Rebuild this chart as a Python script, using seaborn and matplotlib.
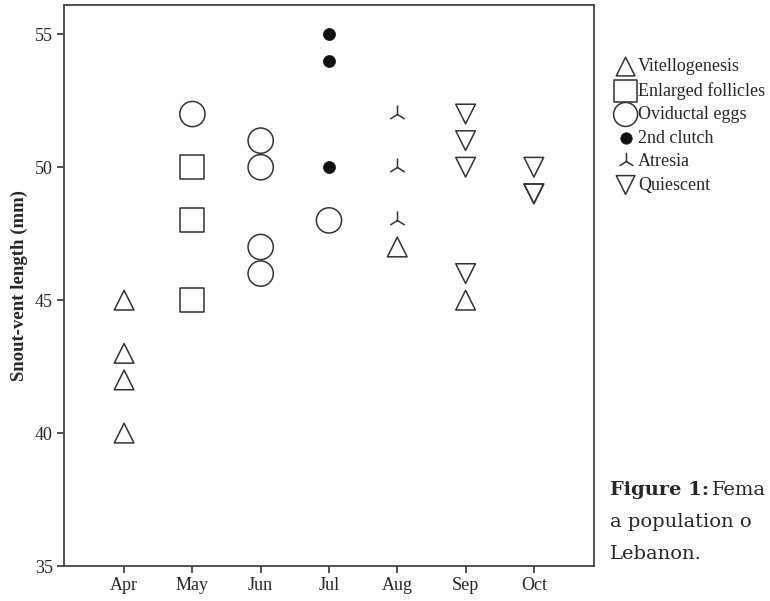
import matplotlib
matplotlib.use("Agg")
import matplotlib.pyplot as plt
import seaborn as sns
import pandas as pd

months = ["Apr", "May", "Jun", "Jul", "Aug", "Sep", "Oct"]
stages = ["Vitellogenesis", "Enlarged follicles", "Oviductal eggs",
          "2nd clutch", "Atresia", "Quiescent"]

# (month, snout-vent length) per reproductive stage
vitello_month = ["Apr", "Apr", "Apr", "Apr", "Aug", "Sep"]
vitello_svl = [45, 43, 42, 40, 47, 45]
enlarged_month = ["May", "May", "May"]
enlarged_svl = [50, 48, 45]
oviduct_month = ["May", "Jun", "Jun", "Jun", "Jun", "Jul"]
oviduct_svl = [52, 51, 50, 47, 46, 48]
clutch2_month = ["Jul", "Jul", "Jul"]
clutch2_svl = [55, 54, 50]
atresia_month = ["Aug", "Aug", "Aug"]
atresia_svl = [52, 50, 48]
quiesc_month = ["Sep", "Sep", "Sep", "Sep", "Oct", "Oct", "Oct"]
quiesc_svl = [52, 51, 50, 46, 50, 49, 49]

df = pd.concat([
    pd.DataFrame({"month": vitello_month, "svl": vitello_svl, "stage": stages[0]}),
    pd.DataFrame({"month": enlarged_month, "svl": enlarged_svl, "stage": stages[1]}),
    pd.DataFrame({"month": oviduct_month, "svl": oviduct_svl, "stage": stages[2]}),
    pd.DataFrame({"month": clutch2_month, "svl": clutch2_svl, "stage": stages[3]}),
    pd.DataFrame({"month": atresia_month, "svl": atresia_svl, "stage": stages[4]}),
    pd.DataFrame({"month": quiesc_month, "svl": quiesc_svl, "stage": stages[5]}),
], ignore_index=True)
df["x"] = df["month"].map({m: i for i, m in enumerate(months)})

sns.set_style("ticks")
plt.rcParams["font.family"] = ["Liberation Serif", "DejaVu Serif"]

edge = "#333333"
styles = {
    "Vitellogenesis": dict(marker="^", s=200, facecolor="none", edgecolor=edge, linewidth=1.1),
    "Enlarged follicles": dict(marker="s", s=300, facecolor="none", edgecolor=edge, linewidth=1.1),
    "Oviductal eggs": dict(marker="o", s=330, facecolor="none", edgecolor=edge, linewidth=1.1),
    "2nd clutch": dict(marker="o", s=75, color="#111111", edgecolor="#111111", linewidth=0.5),
    "Atresia": dict(marker="2", s=170, color=edge, linewidth=1.1),
    "Quiescent": dict(marker="v", s=200, facecolor="none", edgecolor=edge, linewidth=1.1),
}

fig = plt.figure(figsize=(7.7, 6.01), dpi=100)
ax = fig.add_axes([0.0831, 0.0582, 0.6883, 0.9334])

for st in stages:
    sub = df[df["stage"] == st]
    sns.scatterplot(data=sub, x="x", y="svl", ax=ax, label=st, **styles[st])

ax.set_xlim(-0.88, 6.88)
ax.set_ylim(35, 56.1)
ax.set_xticks(range(len(months)))
ax.set_xticklabels(months)
ax.set_yticks([35, 40, 45, 50, 55])
ax.set_xlabel("")
ax.set_ylabel("Snout-vent length (mm)", fontsize=13.5, fontweight="bold")
ax.yaxis.set_label_coords(-0.067, 0.5)
ax.tick_params(axis="both", labelsize=13, length=5, width=1.2, color=edge, pad=3)
for sp in ax.spines.values():
    sp.set_visible(True)
    sp.set_color("#444444")
    sp.set_linewidth(1.3)

ax.legend(loc="upper left", bbox_to_anchor=(0.789, 0.915), bbox_transform=fig.transFigure,
          frameon=False, fontsize=13, handletextpad=0.1, handlelength=1.2,
          labelspacing=0.36, markerscale=0.95, borderaxespad=0)

cap = dict(fontsize=14, va="baseline", family="DejaVu Serif")
fig.text(0.792, 1 - 495 / 601, "Figure 1:", fontweight="bold", **cap)
fig.text(0.925, 1 - 495 / 601, "Fema", **cap)
fig.text(0.792, 1 - 527 / 601, "a population o", **cap)
fig.text(0.792, 1 - 559 / 601, "Lebanon.", **cap)

fig.savefig("out.png", dpi=100)
